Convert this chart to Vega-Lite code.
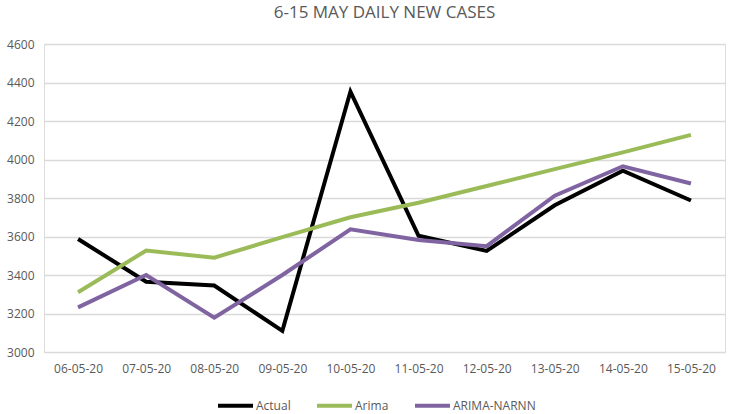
{
  "$schema": "https://vega.github.io/schema/vega-lite/v6.json",
  "width": 681,
  "height": 308,
  "autosize": {"type": "none"},
  "padding": {"left": 44, "top": 44, "right": 6, "bottom": 62},
  "background": "white",
  "title": {
    "text": "6-15 MAY DAILY NEW CASES",
    "font": "Open Sans",
    "fontSize": 17,
    "fontWeight": "normal",
    "color": "#595959",
    "anchor": "middle",
    "offset": 16
  },
  "data": {
    "values": [
      {"date": "06-05-20", "series": "Actual", "cases": 3587},
      {"date": "07-05-20", "series": "Actual", "cases": 3365},
      {"date": "08-05-20", "series": "Actual", "cases": 3345},
      {"date": "09-05-20", "series": "Actual", "cases": 3110},
      {"date": "10-05-20", "series": "Actual", "cases": 4353},
      {"date": "11-05-20", "series": "Actual", "cases": 3604},
      {"date": "12-05-20", "series": "Actual", "cases": 3525},
      {"date": "13-05-20", "series": "Actual", "cases": 3762},
      {"date": "14-05-20", "series": "Actual", "cases": 3942},
      {"date": "15-05-20", "series": "Actual", "cases": 3787},
      {"date": "06-05-20", "series": "Arima", "cases": 3310},
      {"date": "07-05-20", "series": "Arima", "cases": 3527},
      {"date": "08-05-20", "series": "Arima", "cases": 3490},
      {"date": "09-05-20", "series": "Arima", "cases": 3597},
      {"date": "10-05-20", "series": "Arima", "cases": 3700},
      {"date": "11-05-20", "series": "Arima", "cases": 3775},
      {"date": "12-05-20", "series": "Arima", "cases": 3862},
      {"date": "13-05-20", "series": "Arima", "cases": 3950},
      {"date": "14-05-20", "series": "Arima", "cases": 4037},
      {"date": "15-05-20", "series": "Arima", "cases": 4128},
      {"date": "06-05-20", "series": "ARIMA-NARNN", "cases": 3232},
      {"date": "07-05-20", "series": "ARIMA-NARNN", "cases": 3400},
      {"date": "08-05-20", "series": "ARIMA-NARNN", "cases": 3178},
      {"date": "09-05-20", "series": "ARIMA-NARNN", "cases": 3400},
      {"date": "10-05-20", "series": "ARIMA-NARNN", "cases": 3637},
      {"date": "11-05-20", "series": "ARIMA-NARNN", "cases": 3582},
      {"date": "12-05-20", "series": "ARIMA-NARNN", "cases": 3550},
      {"date": "13-05-20", "series": "ARIMA-NARNN", "cases": 3812},
      {"date": "14-05-20", "series": "ARIMA-NARNN", "cases": 3965},
      {"date": "15-05-20", "series": "ARIMA-NARNN", "cases": 3875}
    ]
  },
  "mark": {"type": "line", "strokeWidth": 4, "strokeJoin": "miter"},
  "encoding": {
    "x": {
      "field": "date",
      "type": "nominal",
      "sort": null,
      "scale": {"type": "point", "padding": 0.5},
      "axis": {
        "title": null,
        "labelAngle": 0,
        "labelFont": "Open Sans",
        "labelFontSize": 12,
        "labelColor": "#595959",
        "labelPadding": 11,
        "ticks": false,
        "domain": false,
        "grid": false
      }
    },
    "y": {
      "field": "cases",
      "type": "quantitative",
      "scale": {"domain": [3000, 4600], "nice": false, "zero": false},
      "axis": {
        "title": null,
        "format": "d",
        "values": [3000, 3200, 3400, 3600, 3800, 4000, 4200, 4400, 4600],
        "labelFont": "Open Sans",
        "labelFontSize": 12,
        "labelColor": "#595959",
        "labelPadding": 10,
        "ticks": false,
        "domain": false,
        "gridColor": "#d9d9d9",
        "gridWidth": 1.3
      }
    },
    "color": {
      "field": "series",
      "type": "nominal",
      "scale": {
        "domain": ["Actual", "Arima", "ARIMA-NARNN"],
        "range": ["#000000", "#9bbb59", "#8064a2"]
      },
      "legend": {
        "title": null,
        "orient": "none",
        "direction": "horizontal",
        "legendX": 172,
        "legendY": 342,
        "symbolType": "stroke",
        "symbolSize": 1225,
        "symbolStrokeWidth": 4,
        "labelFont": "Open Sans",
        "labelFontSize": 12,
        "labelColor": "#595959",
        "labelOffset": 1,
        "columnPadding": 18
      }
    }
  }
}
